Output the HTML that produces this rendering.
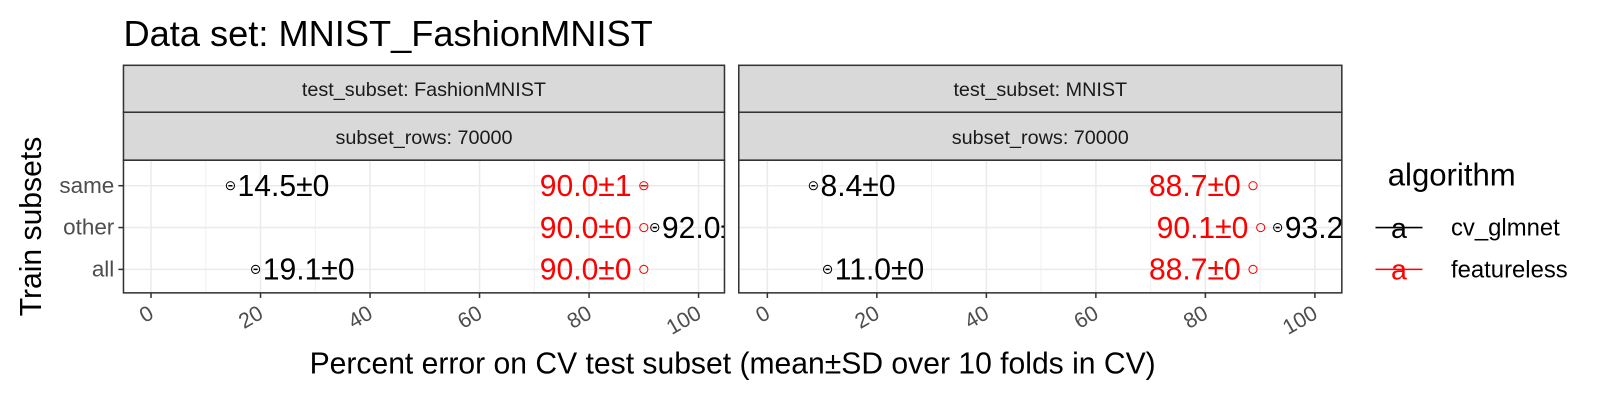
<!DOCTYPE html>
<html><head><meta charset="utf-8"><style>
body{margin:0;background:#fff}
svg{font-family:"Liberation Sans",Arial,sans-serif;display:block}
</style></head><body>
<svg width="1600" height="400"><g id="chart" transform="scale(1.0204)"></g></svg>
<script>
const rows = ["same","other","all"];
const panels = ["FashionMNIST","MNIST"];
const glmMean = [[14.5,92.0,19.1],[8.4,93.2,11.0]];
const glmSD = [[0,0,0],[0,0,0]];
const flMean = [[90.0,90.0,90.0],[88.7,90.1,88.7]];
const flSD = [[1,0,0],[0,0,0]];
const xTicks = [0,20,40,60,80,100];

const NS="http://www.w3.org/2000/svg";
const svg=document.getElementById('chart');
function mk(tag,attrs,parent,text){const e=document.createElementNS(NS,tag);for(const k in attrs)e.setAttribute(k,attrs[k]);if(text!==undefined)e.textContent=text;(parent||svg).appendChild(e);return e;}

const pY0=157,pY1=287,stripTop=64,stripMid=110;
const panelX=[[121,710],[724,1315]];
const x0=[148,752], slope=5.366;
const yRow=[182,223,264];

let t=mk('text',{x:121,y:45,'font-size':35.5,fill:'#000'},svg,'Data set: MNIST_FashionMNIST');


panels.forEach((p,pi)=>{
  const [L,R]=panelX[pi];
  const xs=v=>x0[pi]+v*slope;
  const g=mk('g',{});
  
  let s1=mk('rect',{x:L,y:stripTop,width:R-L,height:stripMid-stripTop,fill:'#d9d9d9',stroke:'#333','stroke-width':1.5},g);
  
  let s2=mk('rect',{x:L,y:stripMid,width:R-L,height:pY0-stripMid,fill:'#d9d9d9',stroke:'#333','stroke-width':1.5},g);
  
  mk('text',{x:(L+R)/2,y:94,'font-size':19.4,'text-anchor':'middle',fill:'#1a1a1a'},g,'test_subset: '+p);
  mk('text',{x:(L+R)/2,y:141,'font-size':19.4,'text-anchor':'middle',fill:'#1a1a1a'},g,'subset_rows: 70000');
  const cp='clip'+pi;
  const cl=mk('clipPath',{id:cp},g);mk('rect',{x:L,y:pY0,width:R-L,height:pY1-pY0},cl);
  const inner=mk('g',{'clip-path':'url(#'+cp+')'},g);
  for(let v=10;v<=100;v+=20){mk('line',{x1:xs(v),x2:xs(v),y1:pY0,y2:pY1,stroke:'#f0f0f0','stroke-width':1},inner);}
  xTicks.forEach(v=>mk('line',{x1:xs(v),x2:xs(v),y1:pY0,y2:pY1,stroke:'#ebebeb','stroke-width':1.5},inner));
  yRow.forEach(y=>mk('line',{x1:L,x2:R,y1:y,y2:y,stroke:'#ebebeb','stroke-width':1.5},inner));
  rows.forEach((r,ri)=>{
    const y=yRow[ri];
    const fx=xs(flMean[pi][ri]);
    let c=mk('circle',{cx:fx,cy:y,r:4,fill:'none',stroke:'red','stroke-width':1},inner);
    
    if(flSD[pi][ri]>0)mk('line',{x1:fx-3,x2:fx+3,y1:y,y2:y,stroke:'red','stroke-width':1.5},inner);
    let tl=mk('text',{x:fx-12,y:y+10,'font-size':29.5,'text-anchor':'end',fill:'red'},inner,flMean[pi][ri].toFixed(1)+'±'+flSD[pi][ri]);
    
    const gx=xs(glmMean[pi][ri]);
    let c2=mk('circle',{cx:gx,cy:y,r:4,fill:'none',stroke:'#000','stroke-width':1},inner);
    
    mk('line',{x1:gx-2,x2:gx+2,y1:y,y2:y,stroke:'#000','stroke-width':1.5},inner);
    let tl2=mk('text',{x:gx+7,y:y+10,'font-size':29.5,fill:'#000'},inner,glmMean[pi][ri].toFixed(1)+'±'+glmSD[pi][ri]);
    
  });
  mk('rect',{x:L,y:pY0,width:R-L,height:pY1-pY0,fill:'none',stroke:'#333','stroke-width':1.5},g);
  xTicks.forEach(v=>{
    const x=xs(v);
    mk('line',{x1:x,x2:x,y1:pY1,y2:pY1+5,stroke:'#333','stroke-width':1.5},g);
    let tk=mk('text',{x:x+4,y:pY1+24,'font-size':21,'text-anchor':'end',fill:'#4d4d4d',transform:'rotate(-30 '+(x+4)+' '+(pY1+24)+')'},g,v);
    
  });
});
rows.forEach((r,ri)=>{
  mk('line',{x1:116,x2:121,y1:yRow[ri],y2:yRow[ri],stroke:'#333','stroke-width':1.5});
  let yl=mk('text',{x:112,y:yRow[ri]+7,'font-size':22,'text-anchor':'end',fill:'#4d4d4d'},svg,r);
  
});
let xt=mk('text',{x:718,y:366,'font-size':29.5,'text-anchor':'middle',fill:'#000'},svg,'Percent error on CV test subset (mean±SD over 10 folds in CV)');

let yt=mk('text',{x:40,y:222,'font-size':29.5,'text-anchor':'middle',fill:'#000',transform:'rotate(-90 40 222)'},svg,'Train subsets');

let lg=mk('g',{});

mk('text',{x:1360,y:182,'font-size':30.5,fill:'#000'},lg,'algorithm');
[['cv_glmnet','#000',223],['featureless','red',264]].forEach(([n,c,y])=>{
  const e=mk('g',{},lg);
  
  mk('line',{x1:1348,x2:1394,y1:y,y2:y,stroke:c,'stroke-width':1.5},e);
  mk('text',{x:1371,y:y+10,'font-size':28,'text-anchor':'middle',fill:c},e,'a');
  mk('text',{x:1422,y:y+8,'font-size':23.4,fill:'#000'},e,n);
});
</script>
</body></html>
